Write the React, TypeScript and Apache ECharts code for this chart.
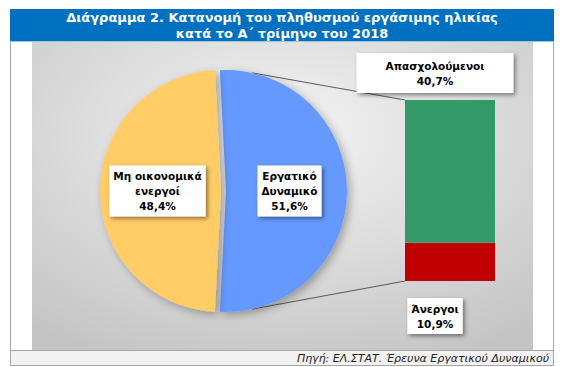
import React, { useEffect, useRef } from 'react';
import * as echarts from 'echarts';

const titleLines = ['Διάγραμμα 2. Κατανομή του πληθυσμού εργάσιμης ηλικίας', 'κατά το Α΄ τρίμηνο του 2018'];
const sourceText = 'Πηγή: ΕΛ.ΣΤΑΤ. Έρευνα Εργατικού Δυναμικού';

const pieNames = ['Εργατικό\nΔυναμικό', 'Μη οικονομικά\nενεργοί'];
const pieValues = [51.6, 48.4];
const pieColors = ['#6699FF', '#FFCC66'];

const barNames = ['Άνεργοι', 'Απασχολούμενοι'];
const barValues = [10.9, 40.7];
const barColors = ['#C00000', '#339966'];

const fmt = (v: number) => v.toFixed(1).replace('.', ',') + '%';

const W = 563;
const H = 367;
const PIE_CX = 221;
const PIE_CY = 191;
const PIE_R = 121;
const EXPLODE = 5;
const GRID = { left: 405, top: 100, width: 90, height: 181 };
const FONT = 'DejaVu Sans';

const boxStyle = {
  backgroundColor: '#ffffff',
  color: '#000000',
  fontFamily: FONT,
  fontWeight: 'bold' as const,
  fontSize: 10.5,
  lineHeight: 15,
  align: 'center' as const,
  shadowBlur: 4,
  shadowColor: 'rgba(0,0,0,0.45)',
  shadowOffsetX: 2,
  shadowOffsetY: 2,
};

export default function App() {
  const ref = useRef<HTMLDivElement>(null);
  useEffect(() => {
    if (!ref.current) return;
    const chart = echarts.init(ref.current, undefined, { renderer: 'svg' });
    const pieSum = pieValues.reduce((a, b) => a + b, 0);
    const barSum = barValues.reduce((a, b) => a + b, 0);
    const startAngle = (pieValues[0] / pieSum) * 180;
    const a = (12.5 * Math.PI) / 180;
    const bx = PIE_CX + EXPLODE;
    const p1 = [bx + PIE_R * Math.sin(a), PIE_CY - PIE_R * Math.cos(a)];
    const p2 = [bx + PIE_R * Math.sin(a), PIE_CY + PIE_R * Math.cos(a)];

    chart.setOption({
      animation: false,
      graphic: [
        { type: 'rect', z: -10, shape: { x: 10.5, y: 9.5, width: 543, height: 356 }, style: { fill: '#ffffff', stroke: '#a6a6a6', lineWidth: 1 } },
        { type: 'rect', z: -9, shape: { x: 10, y: 9, width: 544, height: 32 }, style: { fill: '#0070C0' } },
        { type: 'rect', z: -9, shape: { x: 10, y: 41, width: 544, height: 1 }, style: { fill: '#9dc3e6' } },
        {
          type: 'rect', z: -9, shape: { x: 32, y: 42, width: 501, height: 308 },
          style: {
            fill: new echarts.graphic.RadialGradient(0.5, 0.3, 0.8, [
              { offset: 0, color: '#f4f4f4' },
              { offset: 1, color: '#c4c4c4' },
            ]),
          },
        },
        { type: 'rect', z: -9, shape: { x: 11, y: 350, width: 542, height: 15 }, style: { fill: '#f2f2f2' } },
        { type: 'line', z: -8, shape: { x1: 10, y1: 350.5, x2: 554, y2: 350.5 }, style: { stroke: '#a6a6a6', lineWidth: 1 } },
        {
          type: 'text', z: -7, x: 282, y: 25,
          style: { text: titleLines.join('\n'), fill: '#ffffff', font: `bold 13px "${FONT}"`, textAlign: 'center', textVerticalAlign: 'middle', lineHeight: 16 },
        },
        {
          type: 'text', z: -7, x: 549, y: 358,
          style: { text: sourceText, fill: '#222222', font: `italic 11px "${FONT}"`, textAlign: 'right', textVerticalAlign: 'middle' },
        },
        { type: 'line', z: 1, shape: { x1: p1[0], y1: p1[1], x2: GRID.left, y2: GRID.top }, style: { stroke: '#595959', lineWidth: 1 } },
        { type: 'line', z: 1, shape: { x1: p2[0], y1: p2[1], x2: GRID.left, y2: GRID.top + GRID.height }, style: { stroke: '#595959', lineWidth: 1 } },
      ],
      grid: { left: GRID.left, top: GRID.top, width: GRID.width, height: GRID.height, containLabel: false },
      xAxis: { type: 'category', data: ['Εργατικό Δυναμικό'], show: false },
      yAxis: { type: 'value', min: 0, max: barSum, show: false },
      series: [
        {
          type: 'pie',
          center: [PIE_CX, PIE_CY],
          radius: PIE_R,
          startAngle,
          clockwise: true,
          selectedMode: 'single',
          selectedOffset: EXPLODE,
          emphasis: { disabled: true },
          select: { itemStyle: { borderWidth: 0 } },
          itemStyle: { borderWidth: 0, shadowBlur: 8, shadowColor: 'rgba(0,0,0,0.3)', shadowOffsetX: 3, shadowOffsetY: 3 },
          label: {
            show: true,
            position: 'inside',
            formatter: (p: any) => p.name + '\n' + fmt(p.value),
            padding: [3, 4],
            ...boxStyle,
          },
          labelLine: { show: false },
          data: pieNames.map((n, i) => ({
            name: n,
            value: pieValues[i],
            selected: i === 0,
            itemStyle: { color: pieColors[i] },
            select: { itemStyle: { color: pieColors[i] } },
          })),
        },
        ...barNames.map((n, i) => ({
          type: 'bar',
          name: n,
          stack: 'total',
          barWidth: '100%',
          emphasis: { disabled: true },
          itemStyle: { color: barColors[i] },
          label: {
            show: true,
            position: i === 0 ? 'bottom' : 'top',
            distance: i === 0 ? 17 : 7,
            offset: [-15, 0],
            formatter: (p: any) => n + '\n' + fmt(p.value),
            padding: i === 0 ? [3, 4] : [5, 29],
            ...boxStyle,
          },
          data: [barValues[i]],
        })),
      ],
    });
    return () => chart.dispose();
  }, []);
  return <div ref={ref} style={{ position: 'absolute', left: 0, top: 0, width: W, height: H }} />;
}
